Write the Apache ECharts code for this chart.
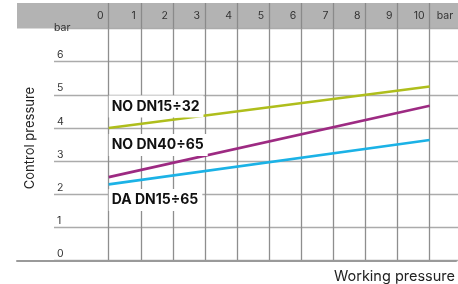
<!DOCTYPE html>
<html>
<head>
<meta charset="utf-8">
<script src="https://cdn.jsdelivr.net/npm/echarts@6/dist/echarts.min.js"></script>
<style>
  html, body { margin: 0; padding: 0; background: #fff; }
  #main { width: 458px; height: 284px; }
</style>
</head>
<body>
<div id="main"></div>
<script>
	// 数据
	var workingPressure = [0, 10];            // bar
	var noSmall = [4.0, 5.25];               // NO DN15÷32
	var noLarge = [2.52, 4.67];              // NO DN40÷65
	var daAll = [2.3, 3.64];                 // DA DN15÷65
	var seriesNames = ['NO DN15÷32', 'NO DN40÷65', 'DA DN15÷65'];
	var seriesColors = ['#afbe1c', '#9d2a82', '#1bb2e6'];
	var xMin = 0, xMax = 10;
	var yMin = 0, yMax = 7;

	var font = 'Inter, "Noto Sans", sans-serif';

	function pairs(ys) {
		var out = [];
		for (var i = 0; i < workingPressure.length; i++) {
			out.push([workingPressure[i], ys[i]]);
		}
		return out;
	}

	// label offset (from first point) for each curve
	var labelOffsets = [[0, -21.5], [0, -32], [0, 15.5]];

	function makeSeries(idx, ys) {
		return {
			name: seriesNames[idx],
			type: 'line',
			xAxisIndex: 2,
			yAxisIndex: 2,
			data: pairs(ys),
			showSymbol: false,
			silent: true,
			lineStyle: { color: seriesColors[idx], width: 2.6 },
			itemStyle: { color: seriesColors[idx] },
			markPoint: {
				silent: true,
				symbol: 'circle',
				symbolSize: 0,
				data: [{
					coord: [workingPressure[0], ys[0]],
					label: {
						show: true,
						position: labelOffsets[idx],
						align: 'left',
						verticalAlign: 'middle',
						formatter: seriesNames[idx],
						fontFamily: font,
						fontWeight: 'bold',
						fontSize: 14,
						color: '#111',
						backgroundColor: '#fff',
						padding: [4, 4, 4, 3]
					}
				}]
			}
		};
	}

	var myChart = echarts.init(document.getElementById('main'));
	var option = {
		animation: false,
		grid: [
			// 0 header band
			{ left: 17, right: 0, top: 3, height: 25.5, show: true, backgroundColor: '#b3b3b3', borderWidth: 0 },
			// 1 horizontal lines
			{ left: 54, right: 0, top: 28.5, bottom: 23.3 },
			// 2 data
			{ left: 108.7, right: 28.3, top: 28.5, bottom: 23.3 },
			// 3 frame (bottom line + axis titles)
			{ left: 17, right: 0, top: 15.3, bottom: 23.3 }
		],
		xAxis: [
			{ gridIndex: 0, type: 'value', show: false, min: 0, max: 1 },
			{ gridIndex: 1, type: 'value', show: false, min: 0, max: 1 },
			{
				gridIndex: 2, type: 'value', min: xMin, max: xMax, interval: 1,
				axisLine: { show: false },
				axisTick: { show: false },
				axisLabel: { show: false },
				splitLine: { show: true, lineStyle: { color: '#8e8e8e', width: 1.3 } }
			},
			{
				gridIndex: 2, type: 'value', position: 'top', min: xMin, max: xMax, interval: 1,
				axisLine: { show: false },
				axisTick: { show: true, inside: false, length: 25.5, lineStyle: { color: '#8a8a8a', width: 1.3 } },
				axisLabel: {
					margin: 7, align: 'right', verticalAlign: 'bottom', padding: [0, 5, 0, 0],
					fontFamily: font, fontSize: 10.5, color: '#333'
				},
				splitLine: { show: false },
				name: 'bar',
				nameLocation: 'end',
				nameGap: 7,
				nameTextStyle: { fontFamily: font, fontSize: 10.5, color: '#333', align: 'left', verticalAlign: 'bottom', padding: [0, 0, 7, 0] }
			},
			{
				gridIndex: 3, type: 'value', min: 0, max: 1,
				axisLine: { show: true, lineStyle: { color: '#9a9a9a', width: 2 } },
				axisTick: { show: false },
				axisLabel: { show: false },
				splitLine: { show: false },
				name: 'Working pressure',
				nameLocation: 'end',
				nameGap: -1,
				nameTextStyle: { fontFamily: font, fontSize: 14.5, color: '#222', align: 'right', verticalAlign: 'top', padding: [8, 0, 0, 0] }
			}
		],
		yAxis: [
			{ gridIndex: 0, type: 'value', show: false, min: 0, max: 1 },
			{
				gridIndex: 1, type: 'value', min: yMin, max: yMax, interval: 1,
				axisLine: { show: false },
				axisTick: { show: false },
				axisLabel: {
					inside: true, margin: 3, verticalAlign: 'bottom', padding: [0, 0, 1, 0],
					fontFamily: font, fontSize: 10.5, color: '#333',
					formatter: function (v) { return v >= yMax ? '' : String(v); }
				},
				splitLine: { show: true, lineStyle: { color: '#ababab', width: 1.3 } },
				name: 'bar',
				nameLocation: 'end',
				nameGap: -5,
				nameTextStyle: { fontFamily: font, fontSize: 10.5, color: '#333', align: 'left', verticalAlign: 'bottom' }
			},
			{ gridIndex: 2, type: 'value', show: false, min: yMin, max: yMax },
			{
				gridIndex: 3, type: 'value', min: 0, max: 1,
				axisLine: { show: false },
				axisTick: { show: false },
				axisLabel: { show: false },
				splitLine: { show: false },
				name: 'Control pressure',
				nameLocation: 'middle',
				nameGap: -20,
				nameTextStyle: { fontFamily: font, fontSize: 13, color: '#222' }
			}
		],
		series: [
			makeSeries(0, noSmall),
			makeSeries(1, noLarge),
			makeSeries(2, daAll)
		]
	};
	myChart.setOption(option);
</script>
</body>
</html>
